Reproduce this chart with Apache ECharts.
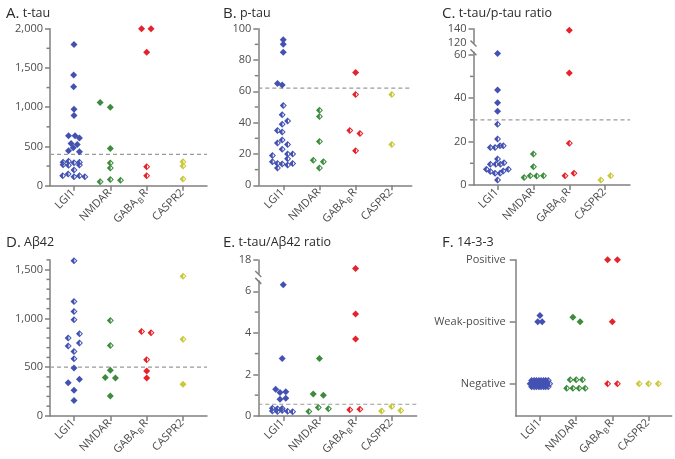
<!DOCTYPE html>
<html><head><meta charset="utf-8">
<script src="https://cdn.jsdelivr.net/npm/echarts@6/dist/echarts.min.js"></script>
<style>html,body{margin:0;padding:0;background:#fff}#c{width:675px;height:459px}</style>
</head><body><div id="c"></div>
<script>
// ---------- DATA ----------
const categories = ['LGI1', 'NMDAR', 'GABA_BR', 'CASPR2'];
const categoryLabels = ['{n|LGI1}', '{n|NMDAR}', '{n|GABA}{s|B}{n|R}', '{n|CASPR2}'];

// each point: [value, jitter within category]
const tTauData = [
  [[1800,0],[1410,-0.01],[1260,-0.01],[975,0],[895,0],[637,-0.15],[637,0.03],[607,0.15],[539,-0.08],[526,0.09],[484,-0.02],[446,-0.15],[433,0.15],
   [300,-0.3],[310,-0.15],[292,0],[300,0.15],[268,-0.3],[262,-0.15],[265,0.15],[200,0],[127,-0.31],[148,-0.16],[115,0],[127,0.15],[115,0.3]],
  [[1060,-0.28],[1000,0],[475,0],[290,0],[225,0],[50,-0.28],[80,0],[68,0.28]],
  [[2000,-0.14],[2000,0.12],[1700,0],[242,0],[127,0]],
  [[305,0],[250,0],[85,0]]
];
const pTauData = [
  [[93,0],[90,0],[85,0],[65,-0.16],[64,-0.03],[51,0],[45,-0.03],[41,0.12],[39,-0.03],[35,-0.16],[34,-0.03],[29,-0.03],[27,-0.16],[26,0.12],[23,-0.03],
   [19,-0.3],[20,0.12],[20,0.26],[17,0.12],[15,-0.3],[14,-0.16],[13.6,-0.03],[13,0.12],[14,0.26],[11,-0.16]],
  [[48,0],[44,0],[28,0],[16,-0.17],[15,0.11],[11,0]],
  [[72,0],[58,0],[35,-0.16],[33,0.12],[22,0]],
  [[58,0],[26,0]]
];
const tpRatioData = [
  [[60.6,0],[43.7,0],[37.9,0],[33.9,0],[28,0],[21.2,0],[17.3,-0.2],[17.3,-0.07],[18.1,0.07],[18.1,0.16],[12,0],[9.5,-0.2],[9.5,-0.05],[9.5,0.08],[10.2,0.18],
   [7.3,-0.31],[7.3,0.3],[6.2,-0.2],[5.4,-0.07],[5.4,0.07],[6.4,0.16],[2.3,0]],
  [[14.3,0],[8.4,0],[3.5,-0.26],[4.3,-0.09],[4.1,0.09],[4.3,0.28]],
  [[138,0],[51.6,0],[19.2,0],[4.3,-0.12],[5.4,0.13]],
  [[2.3,-0.12],[4.3,0.15]]
];
const abetaData = [
  [[1592,0],[1173,0],[1070,0],[985,0],[798,-0.16],[842,0.15],[716,-0.16],[747,0.15],[661,0],[586,0],[491,0],[341,-0.16],[375,0.15],[262,0],[157,0]],
  [[978,0],[723,0],[467,0],[395,-0.14],[389,0.14],[205,0]],
  [[866,-0.14],[852,0.12],[576,0],[460,0],[389,0]],
  [[1432,0],[787,0],[324,0]]
];
const taRatioData = [
  [[6.32,0],[2.76,-0.03],[1.28,-0.21],[1.13,-0.09],[1.16,0.07],[0.8,-0.09],[0.85,0.07],[0.37,-0.3],[0.35,-0.16],[0.36,-0.03],[0.24,-0.3],[0.21,-0.16],[0.26,-0.03],[0.22,0.12],[0.2,0.26]],
  [[2.76,0],[1.05,-0.17],[1.0,0.11],[0.21,-0.29],[0.4,-0.03],[0.35,0.25]],
  [[17.0,0],[4.91,0],[3.7,0],[0.29,-0.16],[0.32,0.12]],
  [[0.24,-0.28],[0.45,0],[0.26,0.25]]
];
// 14-3-3: 0 = Negative, 1 = Weak-positive, 2 = Positive; point: [level + stack offset, jitter]
const levels1433 = ['Negative', 'Weak-positive', 'Positive'];
const p1433Data = [
  [[1.1,0],[1,-0.06],[1,0.06],
   [0.05,-0.23],[0.05,-0.16],[0.05,-0.1],[0.05,-0.03],[0.05,0.03],[0.05,0.1],[0.05,0.16],[0.05,0.23],
   [0,-0.27],[0,-0.2],[0,-0.13],[0,-0.07],[0,0],[0,0.07],[0,0.13],[0,0.2],[0,0.27],
   [-0.05,-0.23],[-0.05,-0.16],[-0.05,-0.1],[-0.05,-0.03],[-0.05,0.03],[-0.05,0.1],[-0.05,0.16],[-0.05,0.23]],
  [[1.07,-0.09],[1,0.11],[0.064,-0.165],[0.064,0],[0.064,0.175],[-0.075,-0.26],[-0.075,-0.09],[-0.075,0.08],[-0.075,0.25]],
  [[2,-0.13],[2,0.14],[1,0],[0,-0.13],[0,0.14]],
  [[0,-0.26],[0,0],[0,0.27]]
];

// tick values
const ticksA = [0,500,1000,1500,2000], minorA = [250,750,1250,1750];
const ticksB = [0,20,40,60,80,100], minorB = [10,30,50,70,90];
const ticksCup = [120,140], ticksClow = [0,20,40,60], minorClow = [10,30,50];
const ticksD = [0,500,1000,1500], minorD = [100,200,300,400,600,700,800,900,1100,1200,1300,1400,1600];
const ticksEup = [17,18], ticksElow = [0,2,4,6], minorElow = [1,3,5];
const ticksF = [0,1,2];

const cutoffs = {A:400, B:62, C:30, D:500, E:0.56};

// ---------- STYLE ----------
const FONT = '"Open Sans", "Noto Sans", sans-serif';
const AXIS = '#808080';
const TXT = '#4d4d4d';
const LW = 1.5;
const COLORS = ['#4352b2', '#3d8c3d', '#e5232a', '#c8c83a'];
const HALF = 'path://M10 0L20 10L10 20L0 10Z M11 5L11 15L16 10Z';
const SIZE = 7;

const fmtNum = v => Math.round(v).toLocaleString('en-US');

const panels = [
  {letter:'A.', name:'t-tau', tx:1, ty:1, left:50, width:157, x:[-0.66,3.66], data:tTauData, cutoff:cutoffs.A, high:true,
   segs:[{top:28.7, bottom:185.7, y:[0,2000], labels:ticksA, ticks:ticksA, minor:minorA}]},
  {letter:'B.', name:'p-tau', tx:218, ty:1, left:258.3, width:153.4, x:[-0.69,3.55], data:pTauData, cutoff:cutoffs.B, high:true,
   segs:[{top:28.7, bottom:185.3, y:[0,100], labels:ticksB, ticks:ticksB, minor:minorB}]},
  {letter:'C.', name:'t-tau/p-tau ratio', tx:437, ty:1, left:473.5, width:156.5, x:[-0.67,3.69], data:tpRatioData, cutoff:cutoffs.C, high:true,
   segs:[{top:28.7, bottom:43, y:[120,140], labels:ticksCup, ticks:[140], minor:[]},
         {top:52.3, bottom:185, y:[0,61.1], labels:ticksClow, ticks:ticksClow, minor:minorClow}]},
  {letter:'D.', name:'A\u03b242', tx:1, ty:230, left:50, width:157, x:[-0.66,3.66], data:abetaData, cutoff:cutoffs.D, high:false,
   segs:[{top:259.9, bottom:416.3, y:[0,1600], labels:ticksD, ticks:ticksD, minor:minorD}]},
  {letter:'E.', name:'t-tau/A\u03b242 ratio', tx:218, ty:230, left:258.3, width:158.4, x:[-0.69,3.69], data:taRatioData, cutoff:cutoffs.E, high:true,
   segs:[{top:260, bottom:273.5, y:[16.4,18], labels:ticksEup, ticks:[18], minor:[]},
         {top:280.9, bottom:416.7, y:[0,6.5], labels:ticksElow, ticks:ticksElow, minor:minorElow}]},
  {letter:'F.', name:'14-3-3', tx:437, ty:230, left:515.7, width:156, x:[-0.67,3.64], data:p1433Data, cutoff:null, level:true,
   segs:[{top:259.7, bottom:417.3, y:[-0.52,2], labels:ticksF, ticks:ticksF, minor:[]}]}
];

const option = {animation:false, backgroundColor:'#ffffff', title:[], grid:[], xAxis:[], yAxis:[], series:[], graphic:[]};

panels.forEach(p => {
  option.title.push({
    text: '{l|' + p.letter + '}{t| ' + p.name + '}', left: p.tx, top: p.ty,
    textStyle: {fontWeight: 'normal', rich: {
      l: {fontSize: 15, color: '#2b2b2b', fontFamily: FONT, fontWeight: 'normal'},
      t: {fontSize: 12.5, color: '#2b2b2b', fontFamily: FONT, fontWeight: 'normal'}
    }}
  });
  p.segs.forEach((s, si) => {
    const isBottom = si === p.segs.length - 1;
    const gi = option.grid.length;
    option.grid.push({left: p.left, top: s.top, width: p.width, height: s.bottom - s.top});
    const xi = option.xAxis.length;
    option.xAxis.push({
      gridIndex: gi, type: 'value', min: p.x[0], max: p.x[1], show: isBottom, position: 'bottom',
      axisLine: {show: true, onZero: false, lineStyle: {color: AXIS, width: LW}},
      axisTick: {show: true, customValues: [0,1,2,3], length: 5, lineStyle: {color: AXIS, width: LW}},
      axisLabel: {
        customValues: [0,1,2,3], rotate: 45, margin: 6, color: TXT,
        formatter: v => categoryLabels[Math.round(v)],
        rich: {
          n: {fontSize: 11, color: TXT, fontFamily: FONT, lineHeight: 13, verticalAlign: 'top'},
          s: {fontSize: 8, color: TXT, fontFamily: FONT, lineHeight: 8, padding: [8,1,0,1], verticalAlign: 'bottom'}
        }
      },
      splitLine: {show: false}
    });
    const yi = option.yAxis.length;
    option.yAxis.push({
      gridIndex: gi, type: 'value', min: s.y[0], max: s.y[1], position: 'left',
      axisLine: {show: true, onZero: false, lineStyle: {color: AXIS, width: LW}},
      axisTick: {show: true, customValues: s.ticks, length: p.level ? 6 : 5, lineStyle: {color: AXIS, width: LW}},
      axisLabel: {
        customValues: s.labels, fontSize: 11, color: TXT, fontFamily: FONT, margin: p.level ? 10 : 7,
        formatter: p.level ? (v => levels1433[Math.round(v)]) : fmtNum
      },
      splitLine: {show: false}
    });
    // minor ticks: short marks on the y axis line, placed through the axis scales
    if (s.minor && s.minor.length) {
      option.series.push({
        type: 'scatter', xAxisIndex: xi, yAxisIndex: yi, silent: true, clip: false, z: 5,
        symbol: 'rect', symbolSize: [3.5, 1.5], symbolOffset: [-1.75, 0],
        itemStyle: {color: AXIS, opacity: 1},
        data: s.minor.map(v => [p.x[0], v])
      });
    }
    // cutoff line
    if (p.cutoff !== null && p.cutoff >= s.y[0] && p.cutoff <= s.y[1]) {
      option.series.push({
        type: 'line', xAxisIndex: xi, yAxisIndex: yi, silent: true, symbol: 'none', z: 1,
        lineStyle: {color: '#9a9a9a', width: 1.2, type: [4, 3]},
        data: [[p.x[0], p.cutoff], [p.x[1], p.cutoff]]
      });
    }
    // points
    p.data.forEach((grp, g) => {
      const half = [], full = [];
      grp.forEach(([v, j]) => {
        if (v < s.y[0] || v > s.y[1]) return;
        let filled;
        if (p.level) filled = v > 0.5;
        else filled = p.high ? v > p.cutoff : v < p.cutoff;
        (filled ? full : half).push([g + j, v]);
      });
      [[half, HALF, 2], [full, 'diamond', 3]].forEach(([d, sym, z]) => {
        if (!d.length) return;
        option.series.push({
          type: 'scatter', xAxisIndex: xi, yAxisIndex: yi, silent: true, z: z,
          symbol: sym, symbolSize: SIZE, itemStyle: {color: COLORS[g], opacity: 1},
          data: d
        });
      });
    });
  });
  // axis break marks
  if (p.segs.length === 2) {
    const up = p.segs[0], lo = p.segs[1];
    [[p.left, up.bottom + 0.5], [p.left, lo.top]].forEach(([cx, cy]) => {
      option.graphic.push({type: 'line', silent: true, z: 10,
        shape: {x1: cx - 3, y1: cy - 3, x2: cx + 3, y2: cy + 3},
        style: {stroke: AXIS, lineWidth: LW}});
    });
  }
});

const chart = echarts.init(document.getElementById('c'), null, {renderer: 'canvas'});
chart.setOption(option);
</script>
</body></html>
